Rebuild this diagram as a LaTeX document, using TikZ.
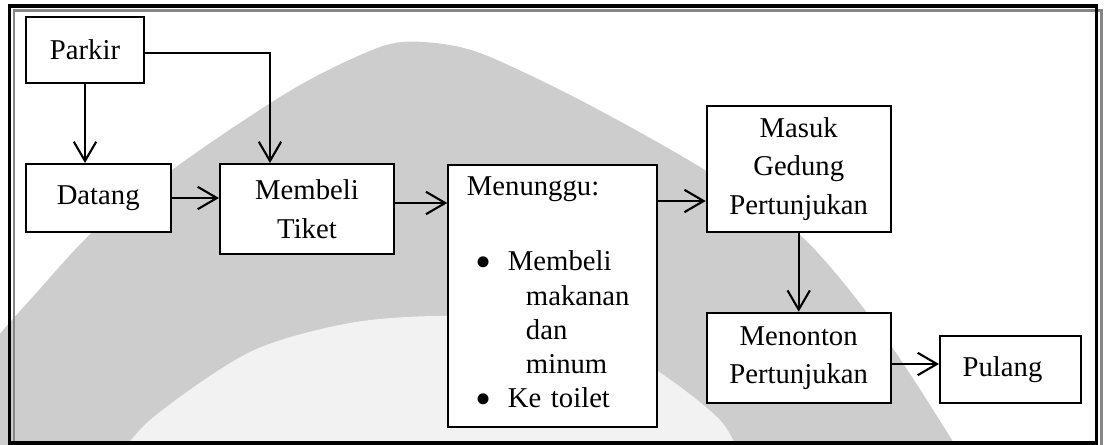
\documentclass[tikz,border=0pt]{standalone}
\usepackage{fontspec}
\setmainfont{Liberation Serif}
\usetikzlibrary{arrows.meta}
\definecolor{lambang}{HTML}{CDCDCD}
\definecolor{lambangdalam}{HTML}{F2F2F2}
\definecolor{bingkai}{HTML}{868686}
\newcommand{\butir}{\makebox[1.025cm][l]{\hspace*{0.22cm}\raisebox{-0.17cm}{\scalebox{1.6}{\textbullet}}}}

\begin{document}
\begin{tikzpicture}[x=0.025cm, y=-0.025cm]
            \tikzstyle{every node}=[font=\fontsize{20.4}{27.5}\selectfont]
            \tikzstyle{kotak}=[draw, line width=1.4pt, fill=white, align=center, inner sep=0pt]
            \tikzstyle{panah}=[line width=1.5pt, -{Straight Barb[length=0.48cm, width=0.56cm, line width=1.5pt]}]
            \useasboundingbox (0,0) rectangle (1107,445);
            % watermark in the background
            \begin{scope}
                \clip (0,0) rectangle (1107,445);
                \fill [lambang] plot [smooth] coordinates {(-10,345) (30,300) (100,225) (200,150) (300,85) (380,47) (423,42) (480,53) (580,100) (700,167) (800,235) (880,330) (955,445) (965,470)} -- (-10,470) -- cycle;
                \fill [lambangdalam] plot [smooth] coordinates {(110,470) (150,420) (250,352) (350,323) (447,316) (550,325) (640,360) (720,420) (745,470)} -- cycle;
            \end{scope}
            % frame
            \draw [bingkai, line width=1.8pt] (14,445) -- (14,10.5) -- (1101.5,10.5) -- (1101.5,445);
            \draw [line width=2.2pt] (9.5,6) rectangle (1096.5,443);
            % boxes
            \node [kotak, minimum width=2.965cm, minimum height=1.665cm] (parkir) at (85,50) {Parkir};
            \node [kotak, minimum width=3.625cm, minimum height=1.7cm] (datang) at (98.2,198) {Datang};
            \node [kotak, minimum width=4.35cm, minimum height=2.25cm] (tiket) at (307,209) {Membeli\\Tiket};
            \node [kotak, minimum width=5.21cm, minimum height=6.54cm, text width=4.275cm, align=left,
                   font=\fontsize{20.4}{24.4}\selectfont] (menunggu) at (552.5,295.8)
                {Menunggu:\\[1.02cm]
                 \butir Membeli\\
                 \hspace*{1.475cm}makanan\\
                 \hspace*{1.475cm}dan\\
                 \hspace*{1.475cm}minum\\
                 \butir Ke toilet};
            \node [kotak, minimum width=4.6cm, minimum height=3.15cm] (masuk) at (798.7,169) {Masuk\\Gedung\\Pertunjukan};
            \node [kotak, minimum width=4.6cm, minimum height=2.265cm] (menonton) at (798.7,358) {Menonton\\Pertunjukan};
            \node [kotak, minimum width=3.525cm, minimum height=1.68cm] (pulang) at (1010.5,369.7) {Pulang\hspace*{0.4cm}};
            % arrows
            \draw [panah] (parkir.south) -- (parkir.south |- datang.north);
            \draw [panah] ([yshift=-0.08cm]parkir.east) -| ([xshift=-0.925cm]tiket.north);
            \draw [panah] (datang.east) -- (datang.east -| tiket.west);
            \draw [panah] ([yshift=0.15cm]tiket.east) -- ([yshift=0.15cm]tiket.east -| menunggu.west);
            \draw [panah] ([yshift=-0.925cm]menunggu.north east) -- ([yshift=-0.925cm]menunggu.north east -| masuk.west);
            \draw [panah] (masuk.south) -- (menonton.north);
            \draw [panah] ([yshift=-0.15cm]menonton.east) -- ([yshift=-0.15cm]menonton.east -| pulang.west);
\end{tikzpicture}
\end{document}
